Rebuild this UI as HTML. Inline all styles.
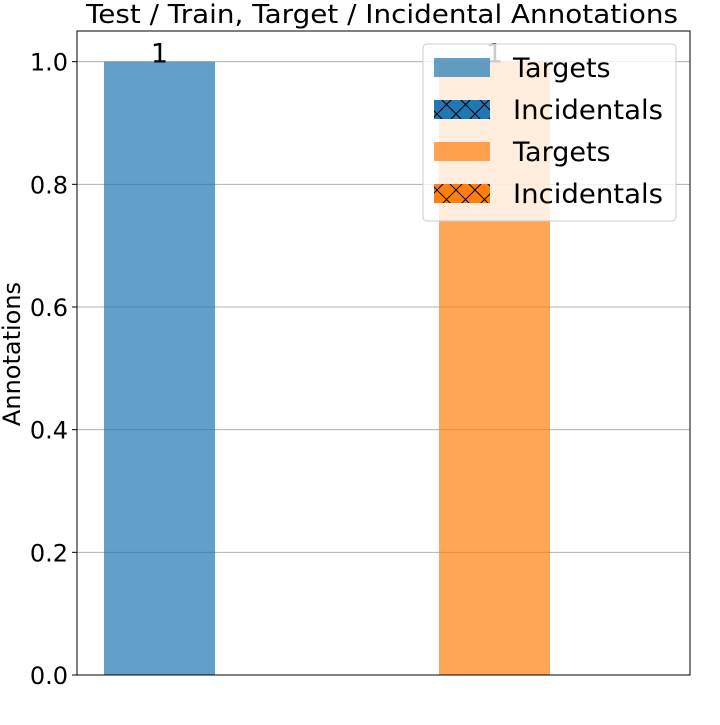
<!DOCTYPE html>
<html><head><meta charset="utf-8"><style>
body{margin:0;background:#fff;}
svg text{font-family:"DejaVu Sans","Liberation Sans",sans-serif;}
</style></head><body>
<svg id="c" width="720" height="720" xmlns="http://www.w3.org/2000/svg">
<defs>
<pattern id="hx" width="19" height="19" patternUnits="userSpaceOnUse"><path d="M0,0L19,19M19,0L0,19" stroke="#000" stroke-width="1"/></pattern>
</defs>
<text x="382" y="23" font-size="26" text-anchor="middle" textLength="592" lengthAdjust="spacingAndGlyphs">Test / Train, Target / Incidental Annotations</text>
<text transform="translate(20,354) rotate(-90)" font-size="24" text-anchor="middle">Annotations</text>
<g id="grid"></g><g id="bars"></g><g id="ticks"></g>
<rect x="77" y="31" width="613" height="644" fill="none" stroke="#000" stroke-width="1"/>
<g>
<rect x="423" y="44" width="253" height="177" rx="4" fill="#fff" fill-opacity="0.8" stroke="#ccc"/>
<rect x="434" y="58" width="56" height="19" fill="#1f77b4" fill-opacity="0.7"/>
<text x="513" y="77" font-size="27">Targets</text>
<rect x="434" y="100" width="56" height="19" fill="#1f77b4"/>
<rect x="434" y="100" width="56" height="19" fill="url(#hx)"/>
<text x="513" y="119" font-size="27" textLength="150" lengthAdjust="spacingAndGlyphs">Incidentals</text>
<rect x="434" y="142" width="56" height="19" fill="#ff7f0e" fill-opacity="0.7"/>
<text x="513" y="161" font-size="27">Targets</text>
<rect x="434" y="184" width="56" height="19" fill="#ff7f0e"/>
<rect x="434" y="184" width="56" height="19" fill="url(#hx)"/>
<text x="513" y="203" font-size="27" textLength="150" lengthAdjust="spacingAndGlyphs">Incidentals</text>
</g>
</svg>
<script>
const categories=["Test","Train"];
const targetValues=[1,1];
const incidentalValues=[0,0];
const yTicks=[0,0.2,0.4,0.6,0.8,1.0];
const colors=["#1f77b4","#ff7f0e"];
const NS="http://www.w3.org/2000/svg";
const y=v=>675-v/1.05*644;
const x=i=>159.5+i*335;
const bw=111;
function mk(t,a,p){const e=document.createElementNS(NS,t);for(const k in a)e.setAttribute(k,a[k]);document.getElementById(p).appendChild(e);return e;}
yTicks.forEach(t=>{
 if(t>0){const g=mk("line",{x1:77,x2:690,y1:y(t),y2:y(t),stroke:"#b0b0b0","stroke-width":1},"grid");
 
 }
 mk("line",{x1:72,x2:77,y1:y(t),y2:y(t),stroke:"#000"},"ticks");
 const l=mk("text",{x:68,y:y(t)+9,"font-size":24,"text-anchor":"end"},"ticks");
 l.textContent=t.toFixed(1);
 
 
});
categories.forEach((c,i)=>{
 const r=mk("rect",{x:x(i)-bw/2,y:y(targetValues[i]),width:bw,height:675-y(targetValues[i]),fill:colors[i],"fill-opacity":0.7},"bars");
 
 
 if(incidentalValues[i]>0){const h=mk("rect",{x:x(i)-bw/2,y:y(targetValues[i]+incidentalValues[i]),width:bw,height:y(targetValues[i])-y(targetValues[i]+incidentalValues[i]),fill:colors[i]},"bars");
 
 }
 const l=mk("text",{x:x(i),y:y(targetValues[i])+1,"font-size":27,"text-anchor":"middle"},"bars");
 l.textContent=targetValues[i];
 
 
});
</script>
</body></html>
